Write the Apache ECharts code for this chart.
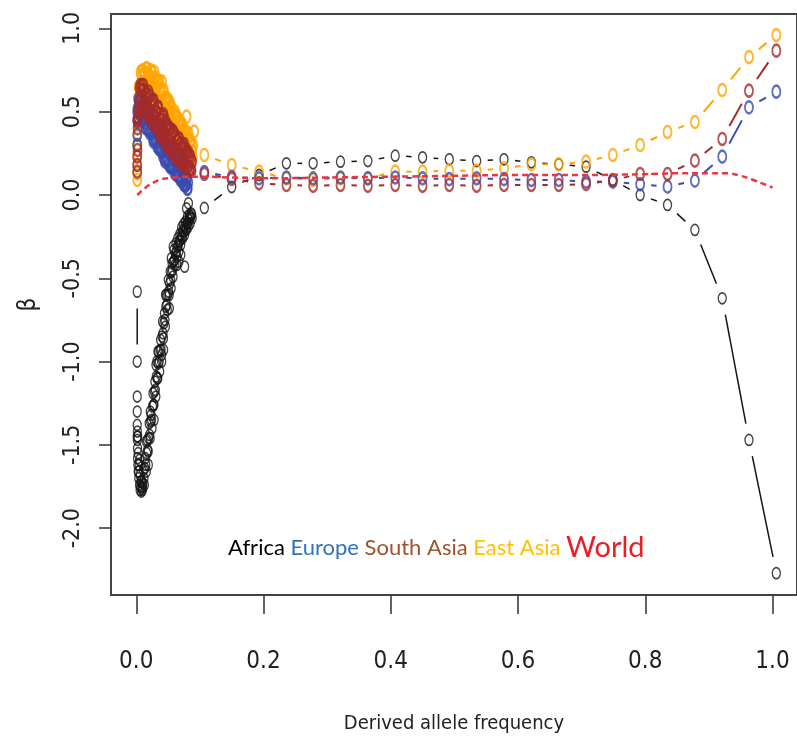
<!DOCTYPE html>
<html><head><meta charset="utf-8">
<script src="https://cdn.jsdelivr.net/npm/echarts@6/dist/echarts.min.js"></script>
<style>html,body{margin:0;padding:0;background:#fff}#c{width:797px;height:746px}</style>
</head><body><div id="c"></div>
<script>
// ---- tick labels ----
const xTicks = [0, 0.2, 0.4, 0.6, 0.8, 1.0];
const yTicks = [-2, -1.5, -1, -0.5, 0, 0.5, 1];

// ---- low-frequency (dense) region, two interleaved frequency sets ----
const lowFreq = [0.0015, 0.003, 0.0045, 0.006, 0.0075, 0.009, 0.0105, 0.012, 0.0135, 0.015,
  0.0165, 0.018, 0.0195, 0.021, 0.0225, 0.024, 0.0255, 0.027, 0.0285, 0.030,
  0.0315, 0.033, 0.0345, 0.036, 0.0375, 0.039, 0.0405, 0.042, 0.0435, 0.045,
  0.0465, 0.048, 0.0495, 0.051, 0.0525, 0.054, 0.0555, 0.057, 0.0585, 0.060,
  0.0615, 0.063, 0.0645, 0.066, 0.0675, 0.069, 0.0705, 0.072, 0.0735, 0.075,
  0.0765, 0.078, 0.0795, 0.081, 0.0825, 0.084, 0.0855, 0.087];
const lowFreq2 = [0.0023, 0.0038, 0.0053, 0.0068, 0.0083, 0.0098, 0.0113, 0.0128, 0.0143, 0.0158,
  0.0173, 0.0188, 0.0203, 0.0218, 0.0233, 0.0248, 0.0263, 0.0278, 0.0293, 0.0308,
  0.0323, 0.0338, 0.0353, 0.0368, 0.0383, 0.0398, 0.0413, 0.0428, 0.0443, 0.0458,
  0.0473, 0.0488, 0.0503, 0.0518, 0.0533, 0.0548, 0.0563, 0.0578, 0.0593, 0.0608,
  0.0623, 0.0638, 0.0653, 0.0668, 0.0683, 0.0698, 0.0713, 0.0728, 0.0743, 0.0758,
  0.0773, 0.0788, 0.0803, 0.0818, 0.0833, 0.0848, 0.0863, 0.0878];

const africaLow = [-1.45, -1.55, -1.62, -1.68, -1.72, -1.76, -1.73, -1.70, -1.64, -1.62,
  -1.55, -1.53, -1.46, -1.44, -1.36, -1.35, -1.27, -1.26, -1.18, -1.17,
  -1.09, -1.10, -1.01, -1.00, -0.93, -0.93, -0.85, -0.83, -0.77, -0.75,
  -0.67, -0.66, -0.60, -0.58, -0.53, -0.51, -0.46, -0.45, -0.40, -0.39,
  -0.35, -0.34, -0.31, -0.30, -0.28, -0.27, -0.24, -0.25, -0.21, -0.22,
  -0.19, -0.20, -0.17, -0.17, -0.15, -0.14, -0.13, -0.12];
const africaLow2 = [-1.45, -1.66, -1.59, -1.75, -1.72, -1.77, -1.65, -1.74, -1.58, -1.66,
  -1.47, -1.54, -1.37, -1.46, -1.32, -1.40, -1.19, -1.26, -1.12, -1.21,
  -1.00, -1.10, -0.94, -1.06, -0.87, -0.96, -0.76, -0.86, -0.71, -0.79,
  -0.60, -0.69, -0.51, -0.60, -0.46, -0.56, -0.41, -0.49, -0.33, -0.42,
  -0.29, -0.37, -0.26, -0.34, -0.235, -0.30, -0.195, -0.26, -0.175, -0.24,
  -0.16, -0.21, -0.13, -0.19, -0.12, -0.17, -0.11, -0.14];
const europeLow = [0.50, 0.46, 0.57, 0.50, 0.57, 0.47, 0.56, 0.46, 0.50, 0.40,
  0.50, 0.40, 0.45, 0.37, 0.47, 0.37, 0.43, 0.32, 0.40, 0.34,
  0.40, 0.29, 0.35, 0.28, 0.37, 0.27, 0.33, 0.23, 0.30, 0.20,
  0.30, 0.22, 0.275, 0.18, 0.25, 0.17, 0.255, 0.17, 0.21, 0.13,
  0.215, 0.14, 0.21, 0.11, 0.175, 0.09, 0.17, 0.10, 0.14, 0.06,
  0.12, 0.06, 0.09, 0.04];
const europeLow2 = [0.46, 0.56, 0.485, 0.57, 0.475, 0.54, 0.45, 0.525, 0.435, 0.495,
  0.395, 0.465, 0.385, 0.465, 0.385, 0.435, 0.335, 0.405, 0.325, 0.405,
  0.315, 0.375, 0.275, 0.345, 0.265, 0.345, 0.255, 0.315, 0.215, 0.285,
  0.205, 0.288, 0.202, 0.265, 0.165, 0.238, 0.162, 0.245, 0.155, 0.218,
  0.122, 0.195, 0.115, 0.198, 0.112, 0.175, 0.085, 0.145, 0.065, 0.135,
  0.055, 0.105, 0.035, 0.075];
const southAsiaLow = [0.45, 0.58, 0.52, 0.66, 0.57, 0.66, 0.525, 0.63, 0.58, 0.49,
  0.61, 0.515, 0.62, 0.48, 0.54, 0.43, 0.57, 0.485, 0.54, 0.41,
  0.50, 0.42, 0.53, 0.38, 0.45, 0.34, 0.475, 0.39, 0.47, 0.34,
  0.42, 0.30, 0.42, 0.325, 0.40, 0.26, 0.36, 0.27, 0.38, 0.285,
  0.36, 0.22, 0.325, 0.23, 0.34, 0.225, 0.28, 0.18, 0.305, 0.21,
  0.28, 0.165, 0.26, 0.17, 0.255, 0.15, 0.22, 0.145];
const southAsiaLow2 = [0.46, 0.50, 0.64, 0.525, 0.63, 0.56, 0.66, 0.535, 0.505, 0.605,
  0.475, 0.58, 0.515, 0.595, 0.455, 0.555, 0.47, 0.57, 0.435, 0.495,
  0.405, 0.525, 0.405, 0.485, 0.355, 0.45, 0.36, 0.485, 0.365, 0.445,
  0.315, 0.405, 0.285, 0.40, 0.305, 0.395, 0.275, 0.385, 0.275, 0.35,
  0.235, 0.325, 0.21, 0.335, 0.235, 0.31, 0.195, 0.285, 0.19, 0.305,
  0.185, 0.27, 0.155, 0.235, 0.15, 0.235, 0.155, 0.20];
const eastAsiaLow = [0.30, 0.51, 0.65, 0.64, 0.72, 0.63, 0.75, 0.67, 0.72, 0.63,
  0.76, 0.685, 0.72, 0.605, 0.75, 0.635, 0.68, 0.575, 0.74, 0.63,
  0.685, 0.57, 0.68, 0.57, 0.63, 0.51, 0.68, 0.55, 0.63, 0.48,
  0.58, 0.48, 0.58, 0.50, 0.56, 0.40, 0.53, 0.435, 0.485, 0.375,
  0.50, 0.385, 0.465, 0.325, 0.44, 0.365, 0.44, 0.305, 0.395, 0.255,
  0.39, 0.295, 0.375, 0.235, 0.37, 0.235, 0.315, 0.225];
const eastAsiaLow2 = [0.42, 0.65, 0.59, 0.74, 0.665, 0.745, 0.63, 0.73, 0.65, 0.76,
  0.67, 0.73, 0.62, 0.70, 0.63, 0.74, 0.61, 0.70, 0.625, 0.705,
  0.56, 0.685, 0.605, 0.685, 0.545, 0.635, 0.545, 0.62, 0.515, 0.585,
  0.475, 0.57, 0.495, 0.55, 0.425, 0.52, 0.46, 0.50, 0.40, 0.48,
  0.39, 0.47, 0.38, 0.43, 0.33, 0.42, 0.35, 0.42, 0.28, 0.39,
  0.21, 0.37, 0.20, 0.34, 0.19, 0.33, 0.20, 0.29];

// extra points at the lowest frequencies / band scatter
const africaEdgeF = [0.0015, 0.0015, 0.0015, 0.0018, 0.0018, 0.002, 0.002, 0.0025, 0.003, 0.004, 0.005, 0.006, 0.008, 0.010,
  0.016, 0.022, 0.028, 0.034, 0.040, 0.046, 0.052, 0.058, 0.064, 0.070, 0.076, 0.082, 0.019, 0.031, 0.043, 0.055, 0.067, 0.079];
const africaEdgeB = [-1.21, -1.30, -1.38, -1.42, -1.47, -1.52, -1.58, -1.62, -1.66, -1.70, -1.74, -1.77, -1.78, -1.75,
  -1.48, -1.30, -1.35, -0.94, -1.00, -0.60, -0.68, -0.31, -0.42, -0.36, -0.43, -0.05, -1.62, -1.02, -0.93, -0.38, -0.40, -0.08];
const africaTopF = [0.0015, 0.0015];
const africaTopB = [-0.58, -1.0];
const europeEdgeF = [0.0015, 0.0015, 0.002, 0.002];
const europeEdgeB = [0.30, 0.36, 0.44, 0.52];
const southAsiaEdgeF = [0.0015, 0.0015, 0.0015, 0.002, 0.002, 0.0025];
const southAsiaEdgeB = [0.14, 0.18, 0.23, 0.27, 0.40, 0.47];
const eastAsiaEdgeF = [0.0015, 0.0015, 0.0015, 0.0015, 0.002, 0.002, 0.0025, 0.0025, 0.086, 0.088, 0.089, 0.090, 0.091, 0.079];
const eastAsiaEdgeB = [0.09, 0.13, 0.18, 0.24, 0.30, 0.37, 0.44, 0.50, 0.20, 0.26, 0.22, 0.30, 0.38, 0.47];

// ---- binned higher frequencies ----
const highFreq = [0.107, 0.150, 0.193, 0.236, 0.278, 0.321, 0.364, 0.407, 0.450, 0.492, 0.535,
  0.578, 0.621, 0.664, 0.707, 0.749, 0.792, 0.835, 0.878, 0.921, 0.963, 1.006];
const africaHigh = [-0.078, 0.048, 0.12, 0.19, 0.19, 0.20, 0.204, 0.236, 0.226, 0.214, 0.204,
  0.214, 0.196, 0.184, 0.17, 0.09, 0.0, -0.06, -0.21, -0.62, -1.47, -2.27];
const europeHigh = [0.138, 0.108, 0.10, 0.105, 0.10, 0.105, 0.10, 0.105, 0.10, 0.095, 0.10,
  0.095, 0.09, 0.09, 0.08, 0.08, 0.064, 0.05, 0.086, 0.23, 0.526, 0.62];
const southAsiaHigh = [0.126, 0.096, 0.07, 0.06, 0.055, 0.06, 0.055, 0.06, 0.055, 0.06, 0.055,
  0.06, 0.06, 0.06, 0.065, 0.09, 0.126, 0.126, 0.206, 0.336, 0.626, 0.866];
const eastAsiaHigh = [0.24, 0.18, 0.14, 0.10, 0.09, 0.10, 0.10, 0.14, 0.14, 0.146, 0.146,
  0.16, 0.184, 0.184, 0.20, 0.24, 0.30, 0.378, 0.438, 0.63, 0.828, 0.96];

// ---- World (fitted curve) ----
const worldFreq = [0.0015, 0.005, 0.01, 0.015, 0.02, 0.03, 0.04, 0.05, 0.06, 0.08, 0.1, 0.15, 0.2,
  0.3, 0.4, 0.5, 0.6, 0.7, 0.8, 0.85, 0.9, 0.93, 0.95, 0.97, 0.99, 1.0];
const worldBeta = [0.0, 0.012, 0.03, 0.045, 0.06, 0.08, 0.095, 0.10, 0.105, 0.11, 0.11, 0.105, 0.10,
  0.105, 0.11, 0.115, 0.12, 0.12, 0.125, 0.13, 0.13, 0.13, 0.115, 0.09, 0.06, 0.045];

const COL = { africa: '#151515', europe: '#3a4bb0', southAsia: '#a52a2a', eastAsia: '#ffa500', world: '#f0343e' };
const FONT = "'Liberation Sans Narrow', 'DejaVu Sans Condensed', 'Liberation Sans', sans-serif";

function pts(fs, bs) { return bs.map((b, i) => [fs[i], b]); }
function segs(fs, bs) { const out = []; for (let i = 1; i < bs.length; i++) out.push([fs[i-1], bs[i-1], fs[i], bs[i]]); return out; }

function typeB(color, width) {
  const gx = 11, gy = 17;
  return function (params, api) {
    const p1 = api.coord([api.value(0), api.value(1)]);
    const p2 = api.coord([api.value(2), api.value(3)]);
    const dx = p2[0] - p1[0], dy = p2[1] - p1[1];
    const d = Math.sqrt((dx / gx) * (dx / gx) + (dy / gy) * (dy / gy));
    if (d <= 2) return { type: 'group', children: [] };
    const t = 1 / d;
    return { type: 'line', shape: { x1: p1[0] + dx * t, y1: p1[1] + dy * t, x2: p2[0] - dx * t, y2: p2[1] - dy * t },
      style: { stroke: color, lineWidth: width } };
  };
}
function scatter(name, data, color, size, bw) {
  return { name, type: 'scatter', data, symbol: 'circle', symbolSize: size, silent: true,
    itemStyle: { color: 'rgba(0,0,0,0)', borderColor: color, borderWidth: bw }, emphasis: { disabled: true } };
}
function lineB(name, data, color, w) {
  return { name, type: 'custom', data, renderItem: typeB(color, w), encode: { x: [0, 2], y: [1, 3] }, silent: true };
}

const series = [
  scatter('Africa', pts(lowFreq, africaLow).concat(pts(lowFreq2, africaLow2), pts(africaEdgeF, africaEdgeB), pts(africaTopF, africaTopB), pts(highFreq, africaHigh)), COL.africa, [8, 11], 1.5),
  lineB('Africa', segs(highFreq, africaHigh).concat(segs(africaTopF, africaTopB)), COL.africa, 1.5),
  scatter('East Asia', pts(lowFreq, eastAsiaLow).concat(pts(lowFreq2, eastAsiaLow2), pts(eastAsiaEdgeF, eastAsiaEdgeB), pts(highFreq, eastAsiaHigh)), COL.eastAsia, [8, 12], 2.2),
  lineB('East Asia', segs(highFreq, eastAsiaHigh), COL.eastAsia, 2),
  scatter('Europe', pts(lowFreq, europeLow).concat(pts(lowFreq2, europeLow2), pts(europeEdgeF, europeEdgeB), pts(highFreq, europeHigh)), COL.europe, [8, 12], 2.2),
  lineB('Europe', segs(highFreq, europeHigh), COL.europe, 2),
  scatter('South Asia', pts(lowFreq, southAsiaLow).concat(pts(lowFreq2, southAsiaLow2), pts(southAsiaEdgeF, southAsiaEdgeB), pts(highFreq, southAsiaHigh)), COL.southAsia, [8, 12], 2.2),
  lineB('South Asia', segs(highFreq, southAsiaHigh), COL.southAsia, 2),
  { name: 'World', type: 'line', data: pts(worldFreq, worldBeta), smooth: 0.4, showSymbol: false, silent: true,
    lineStyle: { color: COL.world, width: 2.5, type: [6, 4] }, emphasis: { disabled: true } }
];

const chart = echarts.init(document.getElementById('c'));
chart.setOption({
  animation: false,
  backgroundColor: '#fff',
  grid: { left: 111, top: 14, width: 689, height: 581, show: true, borderColor: '#444', borderWidth: 2, backgroundColor: 'transparent' },
  title: {
    left: 228, top: 533, padding: 0,
    text: '{a|Africa} {b|Europe} {c|South Asia} {d|East Asia} {e|World}',
    textStyle: { fontFamily: 'Lato', fontSize: 22, fontWeight: 'normal',
      rich: {
        a: { color: '#000', fontFamily: 'Lato', fontSize: 22 },
        b: { color: '#2e75b6', fontFamily: 'Lato', fontSize: 22 },
        c: { color: '#a0522d', fontFamily: 'Lato', fontSize: 22 },
        d: { color: '#ffc000', fontFamily: 'Lato', fontSize: 22 },
        e: { color: '#ee1c25', fontFamily: 'Lato', fontSize: 29 }
      } }
  },
  xAxis: {
    type: 'value', min: -0.0397, max: 1.0385,
    name: 'Derived allele frequency', nameLocation: 'middle', nameGap: 119,
    nameTextStyle: { fontFamily: FONT, fontSize: 20, color: '#222' },
    axisLine: { show: false, onZero: false },
    axisTick: { show: true, length: 19, lineStyle: { color: '#333', width: 1.5 }, customValues: xTicks },
    axisLabel: { customValues: xTicks, margin: 55, fontFamily: FONT, fontSize: 24, color: '#222',
      formatter: v => v.toFixed(1) },
    splitLine: { show: false }
  },
  yAxis: {
    type: 'value', min: -2.401, max: 1.0864,
    name: 'β', nameLocation: 'middle', nameGap: 70, nameRotate: 90,
    nameTextStyle: { fontFamily: FONT, fontSize: 24, color: '#222' },
    axisLine: { show: false, onZero: false },
    axisTick: { show: true, length: 12, lineStyle: { color: '#333', width: 1.5 }, customValues: yTicks },
    axisLabel: { customValues: yTicks, rotate: 90, margin: 26, fontFamily: FONT, fontSize: 23, color: '#222',
      formatter: v => v.toFixed(1) },
    splitLine: { show: false }
  },
  series
});
</script></body></html>
